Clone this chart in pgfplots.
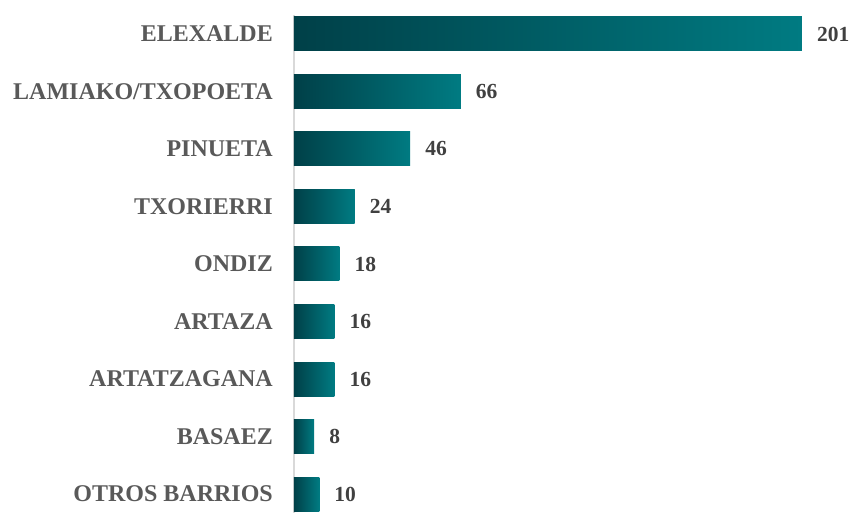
\documentclass[border=0pt]{standalone}
\usepackage{pgfplots}
\pgfplotsset{compat=1.18}
\usepackage{fontspec}
\setmainfont{Liberation Serif}
\definecolor{bardark}{RGB}{0,64,72}
\definecolor{barlight}{RGB}{0,123,130}
\definecolor{labgray}{RGB}{89,89,89}
\definecolor{valgray}{RGB}{64,64,64}
\definecolor{axgray}{RGB}{217,217,217}
\begin{document}
\begin{tikzpicture}
\begin{axis}[
  at={(294pt,0pt)}, anchor=south west,
  scale only axis,
  width=561pt, height=498pt,
  xbar, bar width=34pt, bar shift=0pt,
  xmin=0, xmax=222,
  ymin=-0.33, ymax=8.33,
  y dir=reverse,
  axis x line=none,
  axis y line*=left,
  y axis line style={-, draw=axgray, line width=1.5pt},
  ytick={0,1,2,3,4,5,6,7,8},
  yticklabels={ELEXALDE,LAMIAKO/TXOPOETA,PINUETA,TXORIERRI,ONDIZ,ARTAZA,ARTATZAGANA,BASAEZ,OTROS BARRIOS},
  major tick length=0pt,
  y tick label style={anchor=east, inner sep=0pt, xshift=-21pt, font=\fontsize{24}{26}\selectfont\bfseries, text=labgray},
  /pgf/number format/assume math mode=true,
  nodes near coords,
  nodes near coords style={anchor=west, inner sep=0pt, xshift=15pt, font=\fontsize{21.5}{24}\selectfont\bfseries, text=valgray},
  every axis plot/.append style={draw=none, left color=bardark, right color=barlight},
  clip=false,
]
\addplot coordinates {(201,0)};
\addplot coordinates {(66,1)};
\addplot coordinates {(46,2)};
\addplot coordinates {(24,3)};
\addplot coordinates {(18,4)};
\addplot coordinates {(16,5)};
\addplot coordinates {(16,6)};
\addplot coordinates {(8,7)};
\addplot coordinates {(10,8)};
\end{axis}
\pgfresetboundingbox
\useasboundingbox (0,0) rectangle (855pt,513pt);
\end{tikzpicture}
\end{document}
